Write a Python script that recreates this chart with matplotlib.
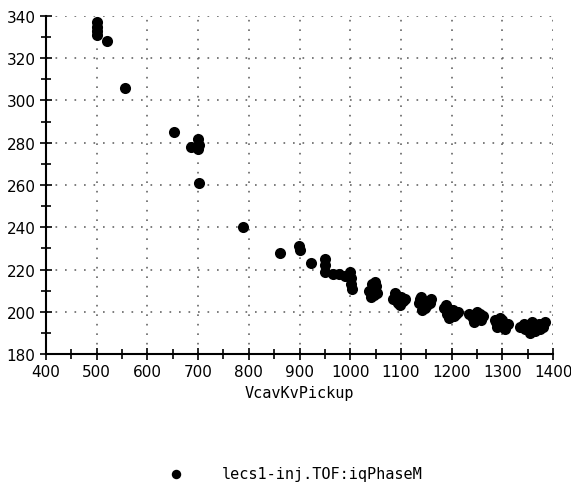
import matplotlib.pyplot as plt
from matplotlib.ticker import MultipleLocator

plt.rcParams['figure.dpi'] = 100

# VcavKvPickup vs lecs1-inj.TOF:iqPhaseM
pickup = [500, 500, 501, 501, 521, 556, 652, 685, 700, 701, 700, 702,
          788, 862, 899, 901, 922, 950, 950, 951, 965, 978, 990, 1000,
          1001, 1002, 1003,
          1038, 1042, 1046, 1050, 1040, 1048, 1052, 1044, 1036, 1046,
          1085, 1090, 1095, 1100, 1105, 1088, 1098, 1108, 1093, 1102, 1092,
          1135, 1140, 1148, 1155, 1160, 1142, 1152, 1138, 1158, 1146, 1150,
          1185, 1190, 1198, 1205, 1212, 1195, 1203, 1188, 1193, 1200, 1208,
          1235, 1242, 1250, 1258, 1262, 1245, 1255, 1240, 1248, 1252,
          1285, 1290, 1298, 1305, 1312, 1295, 1302, 1288, 1294, 1300,
          1335, 1342, 1350, 1358, 1365, 1372, 1380, 1385, 1355, 1368, 1378,
          1345, 1362, 1375]
phase = [337, 335, 333, 331, 328, 306, 285, 278, 282, 279, 277, 261,
         240, 228, 231, 229, 223, 225, 222, 219, 218, 218, 217, 219,
         216, 213, 211,
         210, 213, 208, 212, 207, 214, 209, 211, 210, 210,
         206, 208, 204, 207, 205, 209, 203, 206, 207, 205, 205,
         204, 207, 202, 205, 206, 201, 203, 206, 204, 204, 203,
         202, 199, 201, 198, 200, 197, 201, 203, 200, 199, 199,
         199, 197, 200, 196, 198, 195, 199, 198, 197, 197,
         196, 193, 195, 192, 194, 197, 193, 195, 194, 196,
         193, 194, 192, 195, 191, 194, 193, 195, 190, 192, 194,
         192, 193, 192]

fig = plt.figure(figsize=(5.71, 4.85))
ax = fig.add_axes([0.0806, 0.268, 0.888, 0.697])

ax.scatter(pickup, phase, s=64, c='black', marker='o', linewidths=0,
           label='lecs1-inj.TOF:iqPhaseM', zorder=3)

ax.set_xlim(400, 1400)
ax.set_ylim(180, 340)
ax.xaxis.set_major_locator(MultipleLocator(100))
ax.xaxis.set_minor_locator(MultipleLocator(50))
ax.yaxis.set_major_locator(MultipleLocator(20))
ax.yaxis.set_minor_locator(MultipleLocator(10))
ax.tick_params(which='both', direction='inout', length=8, width=1.2,
               labelsize=11, colors='black')
ax.tick_params(which='minor', length=7)
ax.grid(True, which='major', linestyle=(0, (1, 4.7)), color='#666666',
        linewidth=1.2)

for s in ['top', 'right']:
    ax.spines[s].set_visible(False)
for s in ['left', 'bottom']:
    ax.spines[s].set_linewidth(1.5)

ax.set_xlabel('VcavKvPickup', family='DejaVu Sans Mono', fontsize=11)
ax.legend(loc='upper center', bbox_to_anchor=(0.485, -0.29), frameon=False,
          prop={'family': 'DejaVu Sans Mono', 'size': 11}, handletextpad=2.0,
          markerscale=0.85)

fig.savefig('out.png')
